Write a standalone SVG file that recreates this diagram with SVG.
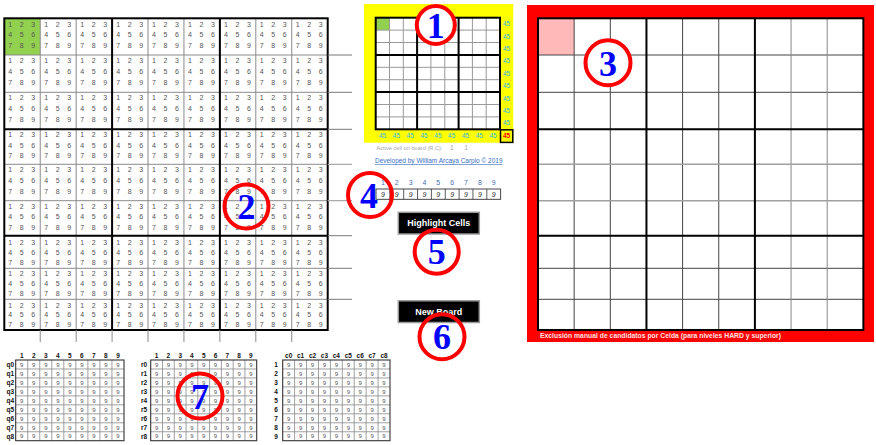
<svg xmlns="http://www.w3.org/2000/svg" width="876" height="445" viewBox="0 0 876 445">
<style>
.d{font-family:"Liberation Sans",Arial,sans-serif;font-size:7px;fill:#555;text-anchor:middle}
.t9{font-family:"Liberation Sans",Arial,sans-serif;font-size:6px;fill:#555;text-anchor:middle}
.hd{font-family:"Liberation Sans",Arial,sans-serif;font-size:6.5px;font-weight:bold;fill:#111;text-anchor:middle}
.rl{font-family:"Liberation Sans",Arial,sans-serif;font-size:6.5px;font-weight:bold;fill:#111;text-anchor:end}
.f45{font-family:"Liberation Sans",Arial,sans-serif;font-size:6.5px;fill:#2eb3e6;text-anchor:middle}
.num{font-family:"Liberation Serif","Times New Roman",serif;font-size:36px;font-weight:bold;fill:#0000ff;text-anchor:middle}
.ring{stroke:#ff0000;stroke-width:4;fill:none}
.btn{fill:#000;stroke:#9a9a9a;stroke-width:1.5}
.btxt{font-family:"Liberation Sans",Arial,sans-serif;font-size:9px;font-weight:bold;fill:#fff;text-anchor:middle}
.thin{stroke:#8a8a8a;stroke-width:1;fill:none}
.thick{stroke:#000;stroke-width:2;fill:none}
</style>
<rect width="876" height="445" fill="#fff"/>

<g id="candidate-grid">
<rect x="4.3" y="18.3" width="35.93" height="36.7" fill="#92d050"/>
<path class="thin" stroke="#9a9a9a" stroke-width="1.3" d="M40.23 18.3V330M76.16 18.3V330M148.02 18.3V330M183.95 18.3V330M255.81 18.3V330M291.74 18.3V330"/>
<path class="thin" stroke="#666" d="M4.3 55H327.7M4.3 92.3H327.7M4.3 268.3H327.7M4.3 299.3H327.7"/>
<path class="thin" stroke="#a0a0a0" stroke-width="1.3" d="M4.3 164.3H327.7M4.3 200.7H327.7"/>
<path class="thick" d="M112.09 18.3V330M219.88 18.3V330M4.3 129.3H327.7M4.3 235.7H327.7"/>
<rect class="thick" x="4.3" y="18.3" width="323.4" height="311.7"/>
<path stroke="#777" stroke-width="1" d="M327.7 55H352M327.7 92.3H352M327.7 129.3H352M327.7 235.7H352M327.7 268.3H352M327.7 299.3H352"/>
<path stroke="#aaa" stroke-width="1.2" d="M327.7 164.3H352M327.7 200.7H352"/>
<path stroke="#8a8a8a" stroke-width="1" d="M40.23 330V342M76.16 330V342M112.09 330V342M148.02 330V342M183.95 330V342M219.88 330V342M255.81 330V342M291.74 330V342"/>
<text class="d" y="26.5" x="10.3 21.8 33.3 46.2 57.7 69.2 82.2 93.7 105.2 118.1 129.6 141.1 154 165.5 177 190 201.5 213 225.9 237.4 248.9 261.8 273.3 284.8 297.7 309.2 320.7">123123123123123123123123123</text>
<text class="d" y="37" x="10.3 21.8 33.3 46.2 57.7 69.2 82.2 93.7 105.2 118.1 129.6 141.1 154 165.5 177 190 201.5 213 225.9 237.4 248.9 261.8 273.3 284.8 297.7 309.2 320.7">456456456456456456456456456</text>
<text class="d" y="47.8" x="10.3 21.8 33.3 46.2 57.7 69.2 82.2 93.7 105.2 118.1 129.6 141.1 154 165.5 177 190 201.5 213 225.9 237.4 248.9 261.8 273.3 284.8 297.7 309.2 320.7">789789789789789789789789789</text>
<text class="d" y="63.4" x="10.3 21.8 33.3 46.2 57.7 69.2 82.2 93.7 105.2 118.1 129.6 141.1 154 165.5 177 190 201.5 213 225.9 237.4 248.9 261.8 273.3 284.8 297.7 309.2 320.7">123123123123123123123123123</text>
<text class="d" y="74.2" x="10.3 21.8 33.3 46.2 57.7 69.2 82.2 93.7 105.2 118.1 129.6 141.1 154 165.5 177 190 201.5 213 225.9 237.4 248.9 261.8 273.3 284.8 297.7 309.2 320.7">456456456456456456456456456</text>
<text class="d" y="85" x="10.3 21.8 33.3 46.2 57.7 69.2 82.2 93.7 105.2 118.1 129.6 141.1 154 165.5 177 190 201.5 213 225.9 237.4 248.9 261.8 273.3 284.8 297.7 309.2 320.7">789789789789789789789789789</text>
<text class="d" y="100.3" x="10.3 21.8 33.3 46.2 57.7 69.2 82.2 93.7 105.2 118.1 129.6 141.1 154 165.5 177 190 201.5 213 225.9 237.4 248.9 261.8 273.3 284.8 297.7 309.2 320.7">123123123123123123123123123</text>
<text class="d" y="110.9" x="10.3 21.8 33.3 46.2 57.7 69.2 82.2 93.7 105.2 118.1 129.6 141.1 154 165.5 177 190 201.5 213 225.9 237.4 248.9 261.8 273.3 284.8 297.7 309.2 320.7">456456456456456456456456456</text>
<text class="d" y="121.5" x="10.3 21.8 33.3 46.2 57.7 69.2 82.2 93.7 105.2 118.1 129.6 141.1 154 165.5 177 190 201.5 213 225.9 237.4 248.9 261.8 273.3 284.8 297.7 309.2 320.7">789789789789789789789789789</text>
<text class="d" y="137.4" x="10.3 21.8 33.3 46.2 57.7 69.2 82.2 93.7 105.2 118.1 129.6 141.1 154 165.5 177 190 201.5 213 225.9 237.4 248.9 261.8 273.3 284.8 297.7 309.2 320.7">123123123123123123123123123</text>
<text class="d" y="147.9" x="10.3 21.8 33.3 46.2 57.7 69.2 82.2 93.7 105.2 118.1 129.6 141.1 154 165.5 177 190 201.5 213 225.9 237.4 248.9 261.8 273.3 284.8 297.7 309.2 320.7">456456456456456456456456456</text>
<text class="d" y="158.4" x="10.3 21.8 33.3 46.2 57.7 69.2 82.2 93.7 105.2 118.1 129.6 141.1 154 165.5 177 190 201.5 213 225.9 237.4 248.9 261.8 273.3 284.8 297.7 309.2 320.7">789789789789789789789789789</text>
<text class="d" y="172.4" x="10.3 21.8 33.3 46.2 57.7 69.2 82.2 93.7 105.2 118.1 129.6 141.1 154 165.5 177 190 201.5 213 225.9 237.4 248.9 261.8 273.3 284.8 297.7 309.2 320.7">123123123123123123123123123</text>
<text class="d" y="183" x="10.3 21.8 33.3 46.2 57.7 69.2 82.2 93.7 105.2 118.1 129.6 141.1 154 165.5 177 190 201.5 213 225.9 237.4 248.9 261.8 273.3 284.8 297.7 309.2 320.7">456456456456456456456456456</text>
<text class="d" y="193.6" x="10.3 21.8 33.3 46.2 57.7 69.2 82.2 93.7 105.2 118.1 129.6 141.1 154 165.5 177 190 201.5 213 225.9 237.4 248.9 261.8 273.3 284.8 297.7 309.2 320.7">789789789789789789789789789</text>
<text class="d" y="208.8" x="10.3 21.8 33.3 46.2 57.7 69.2 82.2 93.7 105.2 118.1 129.6 141.1 154 165.5 177 190 201.5 213 225.9 237.4 248.9 261.8 273.3 284.8 297.7 309.2 320.7">123123123123123123123123123</text>
<text class="d" y="219.3" x="10.3 21.8 33.3 46.2 57.7 69.2 82.2 93.7 105.2 118.1 129.6 141.1 154 165.5 177 190 201.5 213 225.9 237.4 248.9 261.8 273.3 284.8 297.7 309.2 320.7">456456456456456456456456456</text>
<text class="d" y="229.8" x="10.3 21.8 33.3 46.2 57.7 69.2 82.2 93.7 105.2 118.1 129.6 141.1 154 165.5 177 190 201.5 213 225.9 237.4 248.9 261.8 273.3 284.8 297.7 309.2 320.7">789789789789789789789789789</text>
<text class="d" y="244.6" x="10.3 21.8 33.3 46.2 57.7 69.2 82.2 93.7 105.2 118.1 129.6 141.1 154 165.5 177 190 201.5 213 225.9 237.4 248.9 261.8 273.3 284.8 297.7 309.2 320.7">123123123123123123123123123</text>
<text class="d" y="254.7" x="10.3 21.8 33.3 46.2 57.7 69.2 82.2 93.7 105.2 118.1 129.6 141.1 154 165.5 177 190 201.5 213 225.9 237.4 248.9 261.8 273.3 284.8 297.7 309.2 320.7">456456456456456456456456456</text>
<text class="d" y="264.8" x="10.3 21.8 33.3 46.2 57.7 69.2 82.2 93.7 105.2 118.1 129.6 141.1 154 165.5 177 190 201.5 213 225.9 237.4 248.9 261.8 273.3 284.8 297.7 309.2 320.7">789789789789789789789789789</text>
<text class="d" y="275.8" x="10.3 21.8 33.3 46.2 57.7 69.2 82.2 93.7 105.2 118.1 129.6 141.1 154 165.5 177 190 201.5 213 225.9 237.4 248.9 261.8 273.3 284.8 297.7 309.2 320.7">123123123123123123123123123</text>
<text class="d" y="285.8" x="10.3 21.8 33.3 46.2 57.7 69.2 82.2 93.7 105.2 118.1 129.6 141.1 154 165.5 177 190 201.5 213 225.9 237.4 248.9 261.8 273.3 284.8 297.7 309.2 320.7">456456456456456456456456456</text>
<text class="d" y="295.8" x="10.3 21.8 33.3 46.2 57.7 69.2 82.2 93.7 105.2 118.1 129.6 141.1 154 165.5 177 190 201.5 213 225.9 237.4 248.9 261.8 273.3 284.8 297.7 309.2 320.7">789789789789789789789789789</text>
<text class="d" y="307.5" x="10.3 21.8 33.3 46.2 57.7 69.2 82.2 93.7 105.2 118.1 129.6 141.1 154 165.5 177 190 201.5 213 225.9 237.4 248.9 261.8 273.3 284.8 297.7 309.2 320.7">123123123123123123123123123</text>
<text class="d" y="317.4" x="10.3 21.8 33.3 46.2 57.7 69.2 82.2 93.7 105.2 118.1 129.6 141.1 154 165.5 177 190 201.5 213 225.9 237.4 248.9 261.8 273.3 284.8 297.7 309.2 320.7">456456456456456456456456456</text>
<text class="d" y="326.9" x="10.3 21.8 33.3 46.2 57.7 69.2 82.2 93.7 105.2 118.1 129.6 141.1 154 165.5 177 190 201.5 213 225.9 237.4 248.9 261.8 273.3 284.8 297.7 309.2 320.7">789789789789789789789789789</text>
</g>

<g id="mini-board">
<rect x="364" y="4" width="149.3" height="138.7" fill="#ffff00"/>
<rect x="375.7" y="17.7" width="124.3" height="111.6" fill="#fff"/>
<rect x="375.7" y="17.7" width="13.8" height="12.4" fill="#92d050"/>
<path stroke="#999" stroke-width="1" fill="none" d="M389.5 17.7V129.3M403.3 17.7V129.3M430.9 17.7V129.3M444.8 17.7V129.3M472.4 17.7V129.3M486.2 17.7V129.3M375.7 30.1H500M375.7 42.5H500M375.7 67.3H500M375.7 79.7H500M375.7 104.5H500M375.7 116.9H500"/>
<path class="thick" d="M417.1 17.7V129.3M458.6 17.7V129.3M375.7 54.9H500M375.7 92.1H500"/>
<rect class="thick" x="375.7" y="17.7" width="124.3" height="111.6"/>
<text class="f45" x="506.5" y="26.2">45</text>
<text class="f45" x="506.5" y="38.6">45</text>
<text class="f45" x="506.5" y="51">45</text>
<text class="f45" x="506.5" y="63.4">45</text>
<text class="f45" x="506.5" y="75.8">45</text>
<text class="f45" x="506.5" y="88.2">45</text>
<text class="f45" x="506.5" y="100.6">45</text>
<text class="f45" x="506.5" y="113">45</text>
<text class="f45" x="506.5" y="125.4">45</text>
<text class="f45" y="138" x="382.6">45</text>
<text class="f45" y="138" x="396.4">45</text>
<text class="f45" y="138" x="410.2">45</text>
<text class="f45" y="138" x="424">45</text>
<text class="f45" y="138" x="437.9">45</text>
<text class="f45" y="138" x="451.7">45</text>
<text class="f45" y="138" x="465.5">45</text>
<text class="f45" y="138" x="479.3">45</text>
<text class="f45" y="138" x="493.1">45</text>
<rect x="500.5" y="129.8" width="12.3" height="12.6" fill="#ffff00" stroke="#000" stroke-width="1.5"/>
<text x="506.6" y="138.3" font-family="Liberation Sans, Arial, sans-serif" font-size="6.5" font-weight="bold" fill="#ff0000" text-anchor="middle">45</text>
<text x="376.5" y="149.6" font-family="Liberation Sans, Arial, sans-serif" font-size="6.2" fill="#a6a6a6" textLength="66" lengthAdjust="spacingAndGlyphs">Active cell on board (R,C):</text>
<text x="451.7" y="149.6" font-family="Liberation Sans, Arial, sans-serif" font-size="6.5" fill="#a6a6a6" text-anchor="middle">1</text>
<text x="466" y="149.6" font-family="Liberation Sans, Arial, sans-serif" font-size="6.5" fill="#a6a6a6" text-anchor="middle">1</text>
<text x="375" y="163" font-family="Liberation Sans, Arial, sans-serif" font-size="6.3" fill="#3a6fc4" text-decoration="underline" textLength="127.5" lengthAdjust="spacingAndGlyphs">Developed by William Arcaya Carpio © 2019</text>
</g>

<g id="count-row">
<text class="hd" style="fill:#4a6fb5;font-weight:normal;font-size:7px" y="184.8" x="382.9 396.8 410.6 424.5 438.3 452.2 466 479.9 493.7">123456789</text>
<rect x="376" y="189" width="124.65" height="10.3" fill="#fff" stroke="#333" stroke-width="0.9"/>
<path stroke="#333" stroke-width="0.8" d="M389.85 189V199.3M403.7 189V199.3M417.55 189V199.3M431.4 189V199.3M445.25 189V199.3M459.1 189V199.3M472.95 189V199.3M486.8 189V199.3"/>
<text class="d" style="font-style:italic;fill:#333" y="196.7" x="382.9 396.8 410.6 424.5 438.3 452.2 466 479.9 493.7">999999999</text>
</g>

<g id="btn-highlight">
<rect class="btn" x="398.3" y="212.3" width="81" height="21.7"/>
<text class="btxt" x="438.8" y="226.3">Highlight Cells</text>
</g>
<g id="btn-newboard">
<rect class="btn" x="398.3" y="300.8" width="81" height="21.7"/>
<text class="btxt" x="438.8" y="314.8">New Board</text>
</g>

<g id="exclusion-board">
<rect x="527" y="5" width="347" height="337" fill="#ff0000"/>
<rect x="538" y="18.3" width="325.35" height="311.7" fill="#fff"/>
<rect x="538" y="18.3" width="36.15" height="36.7" fill="#ffb9b9"/>
<path stroke="#444" stroke-width="1" fill="none" d="M574.15 18.3V330M610.3 18.3V330M682.6 18.3V330M718.75 18.3V330M538 55H863.35M538 92.3H863.35M538 268.3H863.35M538 299.3H863.35"/>
<path stroke="#888" stroke-width="1" fill="none" d="M791.05 18.3V330M827.2 18.3V330"/>
<path stroke="#a0a0a0" stroke-width="1.5" fill="none" d="M538 164.3H863.35M538 200.7H863.35"/>
<path class="thick" d="M646.45 18.3V330M754.9 18.3V330M538 129.3H863.35M538 235.7H863.35"/>
<rect class="thick" x="538" y="18.3" width="325.35" height="311.7"/>
<text x="540" y="337.6" font-family="Liberation Sans, Arial, sans-serif" font-size="6.5" font-weight="bold" fill="#ffe4e4" textLength="241" lengthAdjust="spacingAndGlyphs">Exclusión manual de candidatos por Celda (para niveles HARD y superior)</text>
</g>

<g id="table-q">
<path stroke="#888" stroke-width="0.8" fill="none" d="M27.73 360V440.7M39.76 360V440.7M51.79 360V440.7M63.82 360V440.7M75.85 360V440.7M87.88 360V440.7M99.91 360V440.7M111.94 360V440.7M15.7 368.97H124M15.7 377.94H124M15.7 386.91H124M15.7 395.88H124M15.7 404.85H124M15.7 413.82H124M15.7 422.79H124M15.7 431.76H124"/>
<rect x="15.7" y="360" width="108.3" height="80.7" fill="none" stroke="#333" stroke-width="1.1"/>
<text class="hd" y="358.3" x="21.7 33.7 45.8 57.8 69.8 81.9 93.9 105.9 118">123456789</text>
<text class="rl" x="14.2" y="366.8">q0</text><text class="rl" x="14.2" y="375.7">q1</text><text class="rl" x="14.2" y="384.7">q2</text><text class="rl" x="14.2" y="393.7">q3</text><text class="rl" x="14.2" y="402.6">q4</text><text class="rl" x="14.2" y="411.6">q5</text><text class="rl" x="14.2" y="420.6">q6</text><text class="rl" x="14.2" y="429.5">q7</text><text class="rl" x="14.2" y="438.5">q8</text>
<text class="t9" y="366.7" x="21.7 33.7 45.8 57.8 69.8 81.9 93.9 105.9 118">999999999</text>
<text class="t9" y="375.7" x="21.7 33.7 45.8 57.8 69.8 81.9 93.9 105.9 118">999999999</text>
<text class="t9" y="384.6" x="21.7 33.7 45.8 57.8 69.8 81.9 93.9 105.9 118">999999999</text>
<text class="t9" y="393.6" x="21.7 33.7 45.8 57.8 69.8 81.9 93.9 105.9 118">999999999</text>
<text class="t9" y="402.6" x="21.7 33.7 45.8 57.8 69.8 81.9 93.9 105.9 118">999999999</text>
<text class="t9" y="411.5" x="21.7 33.7 45.8 57.8 69.8 81.9 93.9 105.9 118">999999999</text>
<text class="t9" y="420.5" x="21.7 33.7 45.8 57.8 69.8 81.9 93.9 105.9 118">999999999</text>
<text class="t9" y="429.5" x="21.7 33.7 45.8 57.8 69.8 81.9 93.9 105.9 118">999999999</text>
<text class="t9" y="438.4" x="21.7 33.7 45.8 57.8 69.8 81.9 93.9 105.9 118">999999999</text>
</g>

<g id="table-r">
<path stroke="#888" stroke-width="0.8" fill="none" d="M162.48 360V440.7M174.26 360V440.7M186.04 360V440.7M197.82 360V440.7M209.6 360V440.7M221.38 360V440.7M233.16 360V440.7M244.94 360V440.7M150.7 368.97H256.7M150.7 377.94H256.7M150.7 386.91H256.7M150.7 395.88H256.7M150.7 404.85H256.7M150.7 413.82H256.7M150.7 422.79H256.7M150.7 431.76H256.7"/>
<rect x="150.7" y="360" width="106" height="80.7" fill="none" stroke="#333" stroke-width="1.1"/>
<text class="hd" y="358.3" x="156.6 168.4 180.2 191.9 203.7 215.5 227.3 239.1 250.8">123456789</text>
<text class="rl" x="147.2" y="366.8">r0</text><text class="rl" x="147.2" y="375.7">r1</text><text class="rl" x="147.2" y="384.7">r2</text><text class="rl" x="147.2" y="393.7">r3</text><text class="rl" x="147.2" y="402.6">r4</text><text class="rl" x="147.2" y="411.6">r5</text><text class="rl" x="147.2" y="420.6">r6</text><text class="rl" x="147.2" y="429.5">r7</text><text class="rl" x="147.2" y="438.5">r8</text>
<text class="t9" y="366.7" x="156.6 168.4 180.2 191.9 203.7 215.5 227.3 239.1 250.8">999999999</text>
<text class="t9" y="375.7" x="156.6 168.4 180.2 191.9 203.7 215.5 227.3 239.1 250.8">999999999</text>
<text class="t9" y="384.6" x="156.6 168.4 180.2 191.9 203.7 215.5 227.3 239.1 250.8">999999999</text>
<text class="t9" y="393.6" x="156.6 168.4 180.2 191.9 203.7 215.5 227.3 239.1 250.8">999999999</text>
<text class="t9" y="402.6" x="156.6 168.4 180.2 191.9 203.7 215.5 227.3 239.1 250.8">999999999</text>
<text class="t9" y="411.5" x="156.6 168.4 180.2 191.9 203.7 215.5 227.3 239.1 250.8">999999999</text>
<text class="t9" y="420.5" x="156.6 168.4 180.2 191.9 203.7 215.5 227.3 239.1 250.8">999999999</text>
<text class="t9" y="429.5" x="156.6 168.4 180.2 191.9 203.7 215.5 227.3 239.1 250.8">999999999</text>
<text class="t9" y="438.4" x="156.6 168.4 180.2 191.9 203.7 215.5 227.3 239.1 250.8">999999999</text>
</g>

<g id="table-c">
<path stroke="#888" stroke-width="0.8" fill="none" d="M294.62 360V440.7M306.54 360V440.7M318.46 360V440.7M330.38 360V440.7M342.3 360V440.7M354.22 360V440.7M366.14 360V440.7M378.06 360V440.7M282.7 368.97H390M282.7 377.94H390M282.7 386.91H390M282.7 395.88H390M282.7 404.85H390M282.7 413.82H390M282.7 422.79H390M282.7 431.76H390"/>
<rect x="282.7" y="360" width="107.3" height="80.7" fill="none" stroke="#333" stroke-width="1.1"/>
<text class="hd" y="358.3" x="288.7">c0</text><text class="hd" y="358.3" x="300.6">c1</text><text class="hd" y="358.3" x="312.5">c2</text><text class="hd" y="358.3" x="324.4">c3</text><text class="hd" y="358.3" x="336.3">c4</text><text class="hd" y="358.3" x="348.3">c5</text><text class="hd" y="358.3" x="360.2">c6</text><text class="hd" y="358.3" x="372.1">c7</text><text class="hd" y="358.3" x="384">c8</text>
<text class="hd" x="276" y="366.8">1</text><text class="hd" x="276" y="375.7">2</text><text class="hd" x="276" y="384.7">3</text><text class="hd" x="276" y="393.7">4</text><text class="hd" x="276" y="402.6">5</text><text class="hd" x="276" y="411.6">6</text><text class="hd" x="276" y="420.6">7</text><text class="hd" x="276" y="429.5">8</text><text class="hd" x="276" y="438.5">9</text>
<text class="t9" y="366.7" x="288.7 300.6 312.5 324.4 336.3 348.3 360.2 372.1 384">999999999</text>
<text class="t9" y="375.7" x="288.7 300.6 312.5 324.4 336.3 348.3 360.2 372.1 384">999999999</text>
<text class="t9" y="384.6" x="288.7 300.6 312.5 324.4 336.3 348.3 360.2 372.1 384">999999999</text>
<text class="t9" y="393.6" x="288.7 300.6 312.5 324.4 336.3 348.3 360.2 372.1 384">999999999</text>
<text class="t9" y="402.6" x="288.7 300.6 312.5 324.4 336.3 348.3 360.2 372.1 384">999999999</text>
<text class="t9" y="411.5" x="288.7 300.6 312.5 324.4 336.3 348.3 360.2 372.1 384">999999999</text>
<text class="t9" y="420.5" x="288.7 300.6 312.5 324.4 336.3 348.3 360.2 372.1 384">999999999</text>
<text class="t9" y="429.5" x="288.7 300.6 312.5 324.4 336.3 348.3 360.2 372.1 384">999999999</text>
<text class="t9" y="438.4" x="288.7 300.6 312.5 324.4 336.3 348.3 360.2 372.1 384">999999999</text>
</g>

<g id="callout-1"><circle class="ring" cx="435.8" cy="25" r="19" style="fill:#fff"/><text class="num" x="435.8" y="37.5">1</text></g>
<g id="callout-2"><circle class="ring" cx="246.5" cy="206.5" r="22"/><text class="num" x="246.5" y="219">2</text></g>
<g id="callout-3"><circle class="ring" cx="608" cy="62.8" r="22.5" style="fill:#fff"/><text class="num" x="608" y="75.5">3</text></g>
<g id="callout-4"><circle class="ring" cx="370" cy="195" r="22"/><text class="num" x="369" y="207.5">4</text></g>
<g id="callout-5"><circle class="ring" cx="436.7" cy="251.7" r="22"/><text class="num" x="436.7" y="264">5</text></g>
<g id="callout-6"><circle class="ring" cx="442" cy="336.7" r="22.5"/><text class="num" x="442" y="349">6</text></g>
<g id="callout-7"><circle class="ring" cx="200" cy="396" r="22.5"/><text class="num" x="200" y="408.5">7</text></g>
</svg>
